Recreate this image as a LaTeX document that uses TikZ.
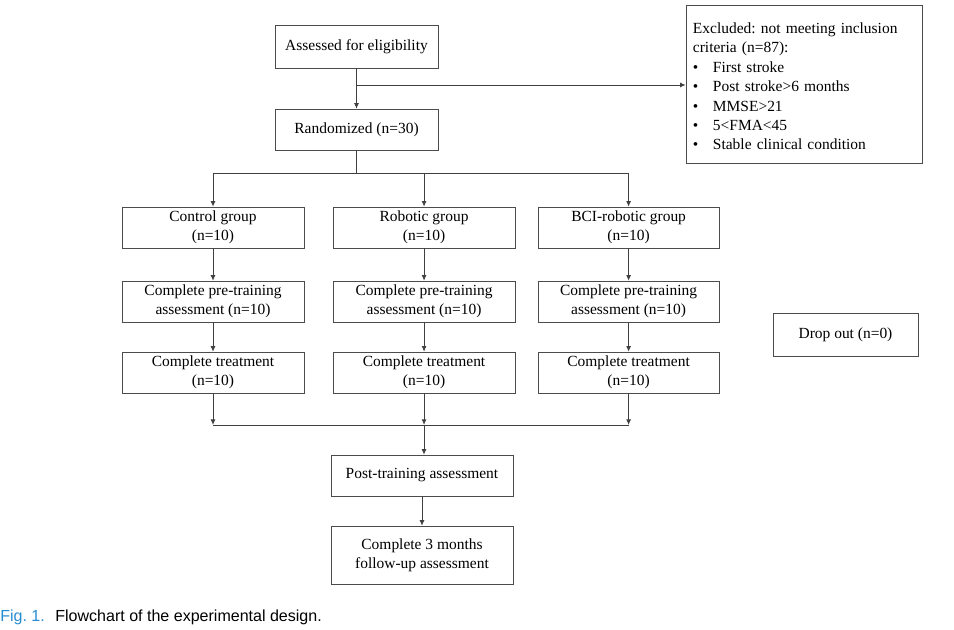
\documentclass[tikz,border=0pt]{standalone}
\usepackage{fontspec}
\setmainfont{Liberation Serif}
\newfontfamily\capfont{Liberation Sans}
\usetikzlibrary{positioning,arrows.meta}
\definecolor{figblue}{RGB}{40,140,210}
\newcommand{\bul}[1]{\makebox[0.5cm][l]{\textbullet}#1}
\frenchspacing

\begin{document}
\begin{tikzpicture}[x=0.025cm,y=-0.025cm,node distance=1.85cm,on grid,
  box/.style={draw=black!70,rectangle,minimum width=4.55cm,minimum height=1.025cm,
    align=center,inner sep=1pt,font=\fontsize{11}{13.8}\selectfont},
  arr/.style={-{Latex[length=4pt,width=3.5pt]},draw=black!75,line width=0.6pt},
  ln/.style={draw=black!75,line width=0.6pt}]
\useasboundingbox (0,0) rectangle (954,630);
\node[box,minimum width=4.075cm,minimum height=1.075cm] (assess) at (356.5,46.5) {Assessed for eligibility};
\node[box,minimum width=4.075cm] (random) [below=2.075cm of assess] {Randomized (n=30)};
\node[box,minimum width=5.9cm,minimum height=3.95cm,align=left,text width=5.55cm,inner xsep=0.175cm] (excl) at (804,84)
  {\rule{0pt}{11pt}Excluded: not meeting inclusion criteria (n=87):\\
   \bul{First stroke}\\
   \bul{Post stroke>6 months}\\
   \bul{MMSE>21}\\
   \bul{5<FMA<45}\\
   \bul{Stable clinical condition}};
\node[box] (ctrl) at (213,227.5) {Control group\\(n=10)};
\node[box] (robo) [right=5.275cm of ctrl] {Robotic group\\(n=10)};
\node[box,minimum width=4.525cm] (bci) [right=5.1125cm of robo] {BCI-robotic group\\(n=10)};
\node[box] (pre1) [below=of ctrl] {Complete pre-training\\assessment (n=10)};
\node[box] (pre2) [below=of robo] {Complete pre-training\\assessment (n=10)};
\node[box,minimum width=4.525cm] (pre3) [below=of bci] {Complete pre-training\\assessment (n=10)};
\node[box] (treat1) [below=1.775cm of pre1] {Complete treatment\\(n=10)};
\node[box] (treat2) [below=1.775cm of pre2] {Complete treatment\\(n=10)};
\node[box,minimum width=4.525cm] (treat3) [below=1.775cm of pre3] {Complete treatment\\(n=10)};
\node[box] (post) at (422,475.5) {Post-training assessment};
\node[box,minimum height=1.45cm] (follow) [below=1.9875cm of post] {Complete 3 months\\follow-up assessment};
\node[box,minimum width=3.625cm,minimum height=1.075cm] (drop) at (845.5,334.5) {Drop out (n=0)};
\node[anchor=base west,inner sep=0,font=\capfont\fontsize{11.4}{13}\selectfont] (cap) at (0,621)
  {\textcolor{figblue}{Fig. 1.}\hspace{7.5pt}Flowchart of the experimental design.};

% screening
\coordinate (exj) at (356.5,85);
\draw[arr] (assess) -- (random);
\draw[arr] (exj) -- (exj -| excl.west);
% allocation
\coordinate (rj) at (356.5,173);
\draw[ln] (random) -- (rj);
\draw[ln] (ctrl.north |- rj) -- (bci.north |- rj);
\foreach \g/\p/\t in {ctrl/pre1/treat1,robo/pre2/treat2,bci/pre3/treat3}{
  \draw[arr] (\g.north |- rj) -- (\g);
  \draw[arr] (\g) -- (\p);
  \draw[arr] (\p) -- (\t);
}
% merge
\coordinate (mj) at (424,425);
\foreach \t in {treat1,treat2,treat3}
  \draw[arr] (\t) -- (\t.south |- mj);
\draw[ln] (treat1.south |- mj) -- (treat3.south |- mj);
\draw[arr] (mj) -- (mj |- post.north);
\draw[arr] (post) -- (follow);
\end{tikzpicture}
\end{document}
